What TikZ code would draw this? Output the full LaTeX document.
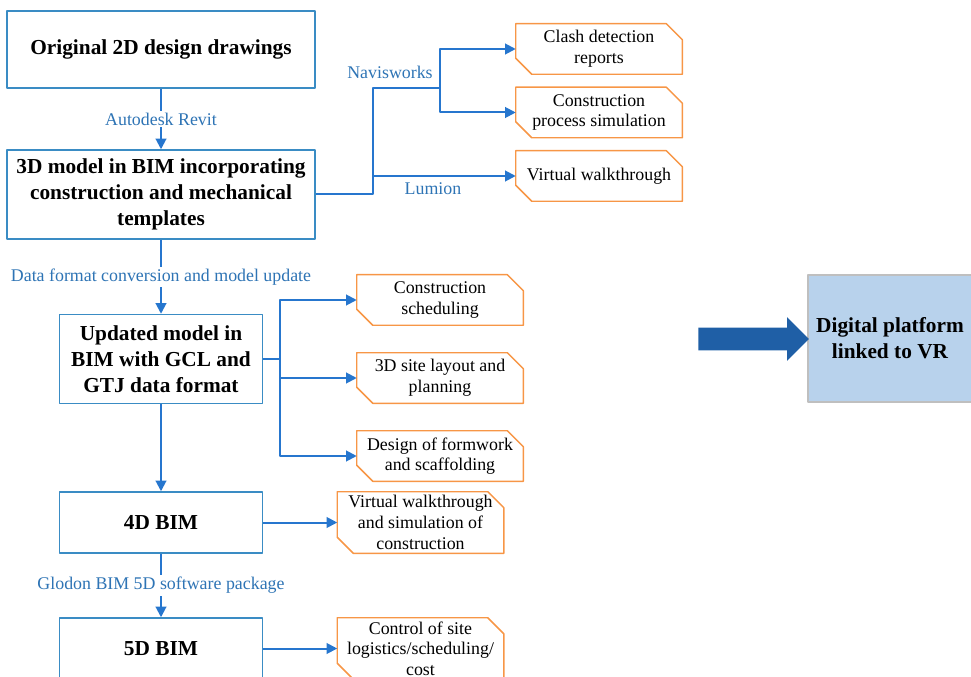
\documentclass[tikz,border=0pt]{standalone}
\usepackage{fontspec}
\setmainfont{Liberation Serif}
\usetikzlibrary{arrows.meta,shapes.arrows}
\definecolor{boxline}{RGB}{58,140,196}
\definecolor{flowblue}{RGB}{38,118,206}
\definecolor{lblblue}{RGB}{46,116,181}
\definecolor{outorange}{RGB}{247,150,70}
\definecolor{vrfill}{RGB}{184,210,236}
\definecolor{vrline}{RGB}{191,191,191}
\definecolor{bigblue}{RGB}{31,95,166}
\tikzset{
  stage/.style={draw=boxline, line width=1.1pt, fill=white, align=center, inner sep=2pt,
    minimum width=152.25pt, font=\fontsize{16}{19.5}\selectfont\bfseries},
  output/.style={align=center, inner sep=1pt, minimum width=124.5pt, minimum height=37.5pt,
    font=\fontsize{13.4}{15.5}\selectfont},
  outline/.style={draw=outorange, line width=1.1pt},
  flow/.style={draw=flowblue, line width=1.5pt, -{Triangle[length=8pt,width=8pt]}},
  link/.style={draw=flowblue, line width=1.5pt},
  lbl/.style={text=lblblue, font=\fontsize{13.4}{15}\selectfont, fill=white, inner sep=1.5pt}
}
\begin{document}
\begin{tikzpicture}[x=0.75pt, y=-0.75pt, line join=round]
  \useasboundingbox (0,0) rectangle (971,677);
  \clip (0,0) rectangle (971,677);
  % main chain
  \node[stage, minimum width=231pt, minimum height=57.75pt] (orig) at (161,49.5) {Original 2D design drawings};
  \node[stage, minimum width=231pt, minimum height=66.75pt] (model) at (161,194.5)
    {3D model in BIM incorporating\\construction and mechanical\\templates};
  \node[stage, minimum height=66.75pt] (upd) at (161,359) {Updated model in\\BIM with GCL and\\GTJ data format};
  \node[stage, minimum height=45.75pt] (bim4) at (161,522.5) {4D BIM};
  \node[stage, minimum height=45.75pt] (bim5) at (161,648.5) {5D BIM};
  % outputs
  \node[output] (clash) at (599,49) {Clash detection\\reports};
  \node[output] (procsim) at (599,112.5) {Construction\\process simulation};
  \node[output] (walk) at (599,176) {Virtual walkthrough};
  \node[output] (sched) at (440,300) {Construction\\scheduling};
  \node[output] (layout) at (440,378) {3D site layout and\\planning};
  \node[output] (formw) at (440,456) {Design of formwork\\and scaffolding};
  \node[output, minimum height=45.75pt] (walksim) at (420.5,522.5) {Virtual walkthrough\\and simulation of\\construction};
  \node[output, minimum height=45.75pt] (ctrl) at (420.5,648.5) {Control of site\\logistics/scheduling/\\cost};
  % cut corners of the outputs
  \foreach \n in {clash,procsim,walk,sched,layout,formw,walksim,ctrl}
    \draw[outline] (\n.north west) -- ([xshift=-12pt]\n.north east) -- ([yshift=-12pt]\n.north east)
      -- (\n.south east) -- ([xshift=12pt]\n.south west) -- ([yshift=12pt]\n.south west) -- cycle;
  % VR platform
  \node[draw=vrline, fill=vrfill, line width=1pt, minimum width=123pt, minimum height=95.25pt, align=center,
    font=\fontsize{16}{19.5}\selectfont\bfseries] (vr) at (890,338.5) {Digital platform\\linked to VR};
  \node[single arrow, fill=bigblue, inner sep=0pt, text height=8.25pt, text depth=8.25pt,
    minimum width=32pt, minimum height=83pt, single arrow head extend=8pt,
    single arrow head indent=0pt] (bigarr) at (748,339) {};
  % connectors
  \draw[flow] (orig) -- node[lbl] {Autodesk Revit} (model);
  \draw[flow] (model) -- node[lbl] {Data format conversion and model update} (upd);
  \draw[flow] (upd) -- (bim4);
  \draw[flow] (bim4) -- node[lbl] {Glodon BIM 5D software package} (bim5);
  \coordinate (j1) at (373,194.5);
  \coordinate (j2) at (440,88);
  \draw[link] (model.east) -- (j1) |- (j2);
  \draw[flow] (j2) |- (clash.west);
  \draw[flow] (j2) |- (procsim.west);
  \draw[flow] (j1) |- (walk.west);
  \node[lbl, fill=none] (navis) at (390,72) {Navisworks};
  \node[lbl, fill=none] (lumion) at (433,189) {Lumion};
  \coordinate (k1) at (280,359);
  \draw[link] (upd.east) -- (k1);
  \draw[flow] (k1) |- (sched.west);
  \draw[flow] (k1) |- (layout.west);
  \draw[flow] (k1) |- (formw.west);
  \draw[flow] (bim4) -- (walksim);
  \draw[flow] (bim5) -- (ctrl);
\end{tikzpicture}
\end{document}
